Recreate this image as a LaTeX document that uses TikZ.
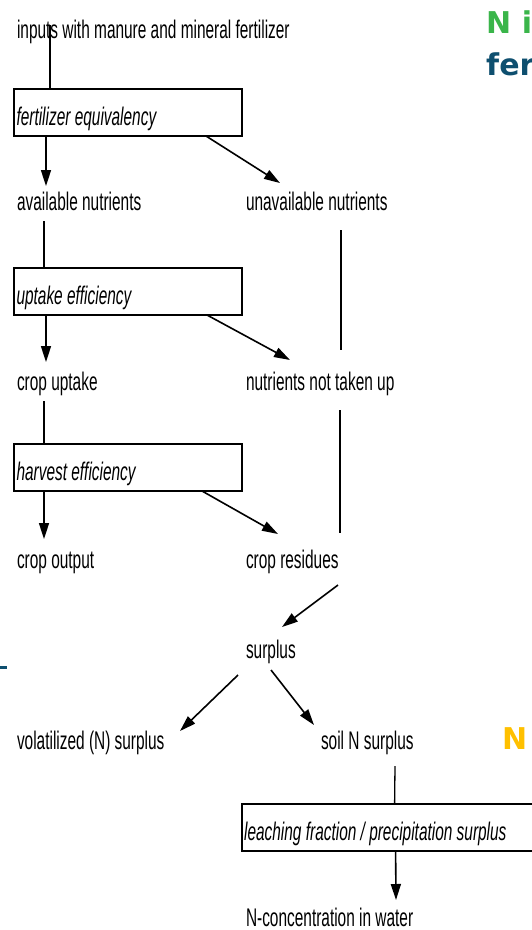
\documentclass[tikz,border=0pt]{standalone}
\usepackage{fontspec}
\setmainfont[FakeStretch=0.605]{Liberation Sans}
\newfontfamily\accentfont{DejaVu Sans}
\usetikzlibrary{arrows.meta}
\definecolor{leafgreen}{HTML}{3AB54A}
\definecolor{deepblue}{HTML}{0E4F6F}
\definecolor{amber}{HTML}{FFC000}
\newcommand{\flowsize}{\fontsize{25.5pt}{29pt}\selectfont}
\newcommand{\boxtext}[2][223pt]{\makebox[#1][l]{#2}}
\tikzset{
  flowlabel/.style={anchor=base west, inner xsep=0pt, inner ysep=6pt, outer sep=0pt,
    text height=18pt, text depth=5pt, font=\flowsize},
  factorbox/.style={draw, line width=2pt, anchor=north west, inner xsep=2.5pt, inner ysep=1pt,
    outer sep=0pt, text height=35pt, text depth=10pt, font=\flowsize\itshape},
  flowline/.style={draw, line width=1.3pt},
  flowarrow/.style={draw, line width=1.6pt, -{Triangle[length=16pt,width=10pt]}},
  accent/.style={anchor=base west, inner sep=0pt, font=\accentfont\bfseries\fontsize{30pt}{34pt}\selectfont}
}
\begin{document}
\begin{tikzpicture}[x=1pt,y=-1pt]
\useasboundingbox (0,0) rectangle (532,930);
\clip (0,0) rectangle (532,930);

\node[flowlabel] (inp) at (17,38) {inputs with manure and mineral fertilizer};
\node[factorbox] (feq) at (14,89) {\boxtext{fertilizer equivalency}};
\node[flowlabel] (avail) at (17,210) {available nutrients};
\node[flowlabel] (unav) at (246,210) {unavailable nutrients};
\node[factorbox] (upeff) at (14,268) {\boxtext{uptake efficiency}};
\node[flowlabel] (cropup) at (17,390) {crop uptake};
\node[flowlabel] (notup) at (246,390) {nutrients not taken up};
\node[factorbox] (harv) at (14,444) {\boxtext{harvest efficiency}};
\node[flowlabel] (cropout) at (17,568) {crop output};
\node[flowlabel] (resid) at (246,568) {crop residues};
\node[flowlabel] (surp) at (246,658) {surplus};
\node[flowlabel] (volat) at (17,749) {volatilized (N) surplus};
\node[flowlabel] (soiln) at (321,749) {soil N surplus};
\node[factorbox] (leach) at (241.6,804) {\boxtext[330pt]{leaching fraction / precipitation surplus}};
\node[flowlabel] (conc) at (246,926) {N-concentration in water};

\draw[flowline] ([xshift=33pt,yshift=13pt]inp.base west) -- ([xshift=36pt]feq.north west);
\draw[flowarrow] ([xshift=32pt]feq.south west) -- ([xshift=29pt]avail.north west);
\draw[flowarrow] ([xshift=-36pt]feq.south east) -- ([xshift=34pt,yshift=3pt]unav.north west);
\draw[flowline] ([xshift=27pt]avail.south west) -- ([xshift=30pt]upeff.north west);
\draw[flowline] ([xshift=95pt,yshift=-9pt]unav.south west) -- ([xshift=95pt,yshift=16pt]notup.north west);
\draw[flowarrow] ([xshift=32pt]upeff.south west) -- ([xshift=29pt,yshift=4pt]cropup.north west);
\draw[flowarrow] ([xshift=-35pt]upeff.south east) -- ([xshift=44pt,yshift=6pt]notup.north west);
\draw[flowline] ([xshift=27pt]cropup.south west) -- ([xshift=30pt]harv.north west);
\draw[flowline] ([xshift=94pt,yshift=-9pt]notup.south west) -- ([xshift=94pt,yshift=11pt]resid.north west);
\draw[flowarrow] ([xshift=30pt]harv.south west) -- ([xshift=27pt,yshift=5pt]cropout.north west);
\draw[flowarrow] ([xshift=-40pt]harv.south east) -- ([xshift=32pt,yshift=10pt]resid.north west);
\draw[flowarrow] ([xshift=92pt,yshift=-6pt]resid.south west) -- ([xshift=36pt,yshift=7pt]surp.north west);
\draw[flowarrow] ([xshift=-8pt,yshift=-6pt]surp.south west) -- ([xshift=163pt,yshift=-6pt]volat.north west);
\draw[flowarrow] ([xshift=25pt,yshift=-1pt]surp.south west) -- ([xshift=-7pt]soiln.north west);
\draw[flowline] ([xshift=74pt,yshift=-6pt]soiln.south west) -- ([xshift=153pt]leach.north west);
\draw[flowarrow] ([xshift=154pt]leach.south west) -- ([xshift=150pt,yshift=2pt]conc.north west);

\node[accent, text=leafgreen] (titleA) at (486,33) {N i};
\node[accent, text=deepblue] (titleB) at (486,75) {fer};
\node[accent, text=amber] (sideN) at (502,749) {N};
\fill[deepblue] (0,666) rectangle (7,669);
\end{tikzpicture}
\end{document}
